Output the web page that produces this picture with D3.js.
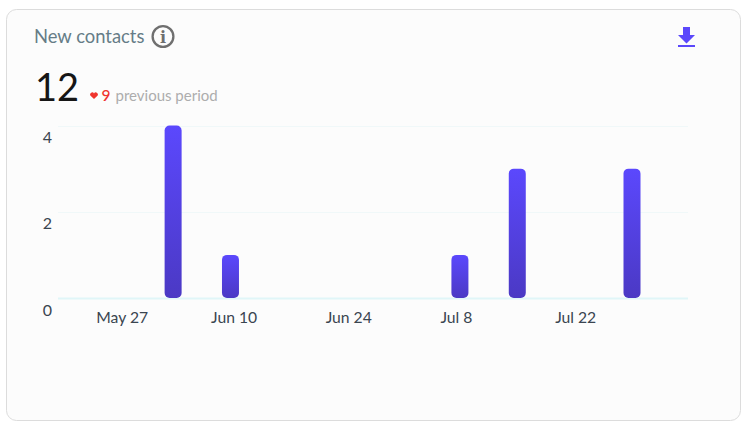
<!DOCTYPE html>
<html><head><meta charset="utf-8">
<script src="https://cdn.jsdelivr.net/npm/d3@7"></script>
<style>html,body{margin:0;padding:0;background:#fff}svg{display:block}text{font-family:Lato,"Open Sans",sans-serif}</style>
</head><body><svg id="c" width="748" height="429"></svg>
<script>
const weeks=["2024-05-20","2024-05-27","2024-06-03","2024-06-10","2024-06-17","2024-06-24","2024-07-01","2024-07-08","2024-07-15","2024-07-22","2024-07-29"];
const contacts=[0,0,4,1,0,0,0,1,3,0,3];
const tickDates=["2024-05-27","2024-06-10","2024-06-24","2024-07-08","2024-07-22"];
const yTicks=[0,2,4];
const title="New contacts",total="12",prevValue="9",prevLabel="previous period";
const parse=d3.utcParse("%Y-%m-%d");
const svg=d3.select("#c");
const defs=svg.append("defs");
const g=defs.append("linearGradient").attr("id","bar").attr("x1",0).attr("x2",0).attr("y1",0).attr("y2",1);
g.append("stop").attr("offset","0%").attr("stop-color","#5b48fd");
g.append("stop").attr("offset","100%").attr("stop-color","#4b39c4");
svg.append("rect").attr("x",6.5).attr("y",9.5).attr("width",734).attr("height",411).attr("rx",10).attr("fill","#fcfcfc").attr("stroke","#dcdcdc");
svg.append("text").attr("x",34).attr("y",43).attr("font-size",18.4).attr("fill","#667c87").text(title);
const info=svg.append("g").attr("transform","translate(163,36.5)");
info.append("circle").attr("r",10.4).attr("fill","none").attr("stroke","#6f6f6f").attr("stroke-width",2.3);
info.append("text").attr("text-anchor","middle").attr("y",6).attr("font-size",16).attr("font-weight",700).attr("fill","#6f6f6f").style("font-family","'DejaVu Serif',serif").text("i");
const dl=svg.append("g").attr("fill","#5b48fb");
dl.append("path").attr("d","M683 27h7v8h5l-8.500 8.500-8.500-8.500h5z");
dl.append("rect").attr("x",678).attr("y",45).attr("width",17).attr("height",2);
svg.append("text").attr("x",35).attr("y",101).attr("font-size",38).attr("fill","#161616").text(total);
svg.append("path").attr("d","M94 99l-3.700-3.500a2.100 2.100 0 0 1 3.700-2a2.100 2.100 0 0 1 3.700 2z").attr("fill","#f0342e");
svg.append("text").attr("x",101.500).attr("y",101).attr("font-size",15.500).attr("font-weight",500).attr("fill","#f0342e").text(prevValue);
svg.append("text").attr("x",115.500).attr("y",101).attr("font-size",15).attr("fill","#adadad").text(prevLabel);
const x=d3.scaleUtc().domain([parse(weeks[0]),parse(weeks[weeks.length-1])]).range([115.7-57.3,115.7-57.3+57.36*10]);
const y=d3.scaleLinear().domain([0,4]).range([298,125.5]);
const plotRight=688;
const grid=svg.append("g");
grid.selectAll("line").data(yTicks).join("line").attr("x1",58).attr("x2",plotRight)
 .attr("y1",d=>Math.round(y(d))+0.5).attr("y2",d=>Math.round(y(d))+0.5)
 .attr("stroke",d=>d===0?"#e0f6f8":"#f0f8f9").attr("stroke-width",d=>d===0?2:1);
const yAxis=d3.axisLeft(y).tickValues(yTicks).tickSize(0).tickFormat(d3.format("d"));
const ya=svg.append("g").attr("transform","translate(52,0)").call(yAxis);
ya.select(".domain").remove();
ya.selectAll("text").attr("font-size",16).attr("fill","#3a4550").attr("dy",17).attr("x",0).style("font-family","Lato,sans-serif");
const xAxis=d3.axisBottom(x).tickValues(tickDates.map(parse)).tickSize(0).tickFormat(d3.utcFormat("%b %-d"));
const xa=svg.append("g").attr("transform","translate(0,298)").call(xAxis);
xa.select(".domain").remove();
xa.selectAll("text").attr("font-size",15.700).attr("fill","#3a4550").attr("text-anchor","start").attr("dx",-20).attr("y",25).attr("dy",0).style("font-family","Lato,sans-serif");
const bw=17;
svg.append("g").selectAll("rect").data(weeks.map((w,i)=>({d:parse(w),v:contacts[i]})).filter(d=>d.v>0)).join("rect")
 .attr("x",d=>x(d.d)-bw/2).attr("width",bw).attr("y",d=>y(d.v)).attr("height",d=>y(0)-y(d.v)).attr("rx",5).attr("fill","url(#bar)");
</script></body></html>
